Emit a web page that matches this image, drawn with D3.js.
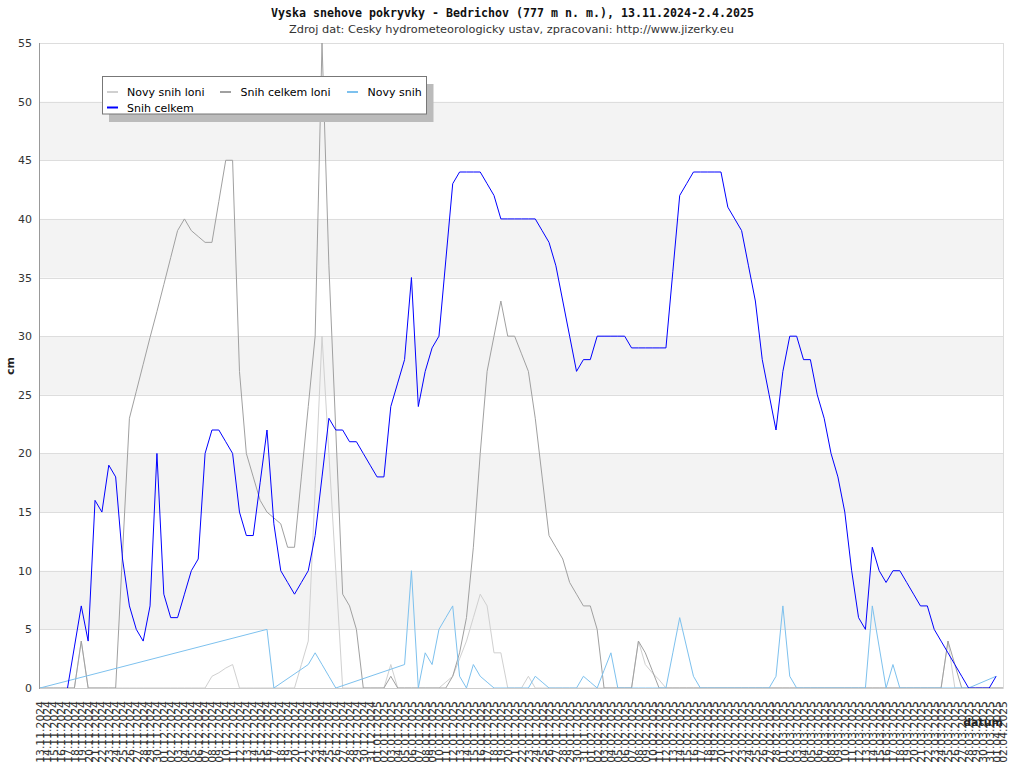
<!DOCTYPE html>
<html>
<head>
<meta charset="utf-8">
<script src="https://cdn.jsdelivr.net/npm/d3@7"></script>
<style>
html,body{margin:0;padding:0;background:#fff;}
svg{display:block;}
</style>
</head>
<body>
<svg id="chart" width="1024" height="768"></svg>
<script>
const titleText = "Vyska snehove pokryvky - Bedrichov (777 m n. m.), 13.11.2024-2.4.2025";
const subtitleText = "Zdroj dat: Cesky hydrometeorologicky ustav, zpracovani: http://www.jizerky.eu";

const dates = [
"13.11.2024","14.11.2024","15.11.2024","16.11.2024","17.11.2024","18.11.2024","19.11.2024","20.11.2024","21.11.2024","22.11.2024",
"23.11.2024","24.11.2024","25.11.2024","26.11.2024","27.11.2024","28.11.2024","29.11.2024","30.11.2024",
"01.12.2024","02.12.2024","03.12.2024","04.12.2024","05.12.2024","06.12.2024","07.12.2024","08.12.2024","09.12.2024","10.12.2024",
"11.12.2024","12.12.2024","13.12.2024","14.12.2024","15.12.2024","16.12.2024","17.12.2024","18.12.2024","19.12.2024","20.12.2024",
"21.12.2024","22.12.2024","23.12.2024","24.12.2024","25.12.2024","26.12.2024","27.12.2024","28.12.2024","29.12.2024","30.12.2024","31.12.2024",
"01.01.2025","02.01.2025","03.01.2025","04.01.2025","05.01.2025","06.01.2025","07.01.2025","08.01.2025","09.01.2025","10.01.2025",
"11.01.2025","12.01.2025","13.01.2025","14.01.2025","15.01.2025","16.01.2025","17.01.2025","18.01.2025","19.01.2025","20.01.2025",
"21.01.2025","22.01.2025","23.01.2025","24.01.2025","25.01.2025","26.01.2025","27.01.2025","28.01.2025","29.01.2025","30.01.2025","31.01.2025",
"01.02.2025","02.02.2025","03.02.2025","04.02.2025","05.02.2025","06.02.2025","07.02.2025","08.02.2025","09.02.2025","10.02.2025",
"11.02.2025","12.02.2025","13.02.2025","14.02.2025","15.02.2025","16.02.2025","17.02.2025","18.02.2025","19.02.2025","20.02.2025",
"21.02.2025","22.02.2025","23.02.2025","24.02.2025","25.02.2025","26.02.2025","27.02.2025","28.02.2025",
"01.03.2025","02.03.2025","03.03.2025","04.03.2025","05.03.2025","06.03.2025","07.03.2025","08.03.2025","09.03.2025","10.03.2025",
"11.03.2025","12.03.2025","13.03.2025","14.03.2025","15.03.2025","16.03.2025","17.03.2025","18.03.2025","19.03.2025","20.03.2025",
"21.03.2025","22.03.2025","23.03.2025","24.03.2025","25.03.2025","26.03.2025","27.03.2025","28.03.2025","29.03.2025","30.03.2025","31.03.2025",
"01.04.2025","02.04.2025"
];

// Novy snih loni (light grey)
const novySnihLoni = [
0,0,0,0,0,0,4,0,0,0,
0,0,0,0,0,0,0,0,0,0,
0,0,0,0,0,1,1.3,1.7,2,0,
0,0,0,0,0,0,0,0,2,4,
17,30,20,10,0,0,0,0,0,0,
0,2,0,0,0,0,0,0,0,0.5,
1,2.5,4,6,8,7,3,3,0,0,
0,1,0,0,0,0,0,0,0,0,
0,0,0,0,0,0,0,4,2,1.3,
0.7,0,0,0,0,0,0,0,0,0,
0,0,0,0,0,0,0,0,0,0,
0,0,0,0,0,0,0,0,0,0,
0,0,0,0,0,0,0,0,0,0,
0,0,4,0,0,0,0,0,0,0,
0
];

// Snih celkem loni (medium grey)
const snihCelkemLoni = [
0,0,0,0,0,0,4,0,0,0,
0,0,11.5,23,25.3,27.6,29.9,32.1,34.4,36.7,
39,40,39,38.5,38,38,41.5,45,45,27,
20,18,16,15,14.5,14,12,12,18,24,
30,55,36,22,8,7,5,0,0,0,
0,1,0,0,0,0,0,0,0,0,
1,3,6,12,20,27,30,33,30,30,
28.5,27,23,18,13,12,11,9,8,7,
7,5,0,0,0,0,0,4,3,1.5,
0,0,0,0,0,0,0,0,0,0,
0,0,0,0,0,0,0,0,0,0,
0,0,0,0,0,0,0,0,0,0,
0,0,0,0,0,0,0,0,0,0,
0,0,4,2,0,0,0,0,0,0,
0
];

// Novy snih (light blue)
const novySnih = [
0,null,null,null,null,null,null,null,null,null,
null,null,null,null,null,null,null,null,null,null,
null,null,null,null,null,null,null,null,null,null,
null,null,null,5,0,null,null,null,null,2,
3,2,1,0,null,null,null,null,null,null,
null,null,null,2,10,0,3,2,5,6,
7,1,0,2,1,0.5,0,0,0,0,
0,0,1,0.5,0,0,0,0,0,1,
0.5,0,1.5,3,0,0,0,0,0,0,
0,0,3,6,3.5,1,0,0,0,0,
0,0,0,0,0,0,0,1,7,1,
0,0,0,0,0,0,0,0,0,0,
0,7,3.5,0,2,0,0,0,0,0,
0,0,0,0,0,0,null,null,null,1,
null
];

// Snih celkem (blue)
const snihCelkem = [
null,null,null,null,0,3.5,7,4,16,15,
19,18,11,7,5,4,7,20,8,6,
6,8,10,11,20,22,22,21,20,15,
13,13,17.5,22,14,10,9,8,9,10,
13,18,23,22,22,21,21,20,19,18,
18,24,26,28,35,24,27,29,30,36.5,
43,44,44,44,44,43,42,40,40,40,
40,40,40,39,38,36,33,30,27,28,
28,30,30,30,30,30,29,29,29,29,
29,29,35.5,42,43,44,44,44,44,44,
41,40,39,36,33,28,25,22,27,30,
30,28,28,25,23,20,18,15,10,6,
5,12,10,9,10,10,9,8,7,7,
5,4,3,2,1,0,0,0,0,1,
null
];

const yTicks = [0,5,10,15,20,25,30,35,40,45,50,55];
const bandStarts = [5,15,25,35,45];

const seriesNames = ["Novy snih loni","Snih celkem loni","Novy snih","Snih celkem"];
const seriesColors = ["#d0d0d0","#a0a0a0","#7dc1ee","#0000ff"];
const seriesData = [novySnihLoni, snihCelkemLoni, novySnih, snihCelkem];

const svg = d3.select("#chart");
const L = 40, R = 1003, T = 43, B = 688;

const x = d3.scalePoint().domain(dates).range([L, R]);
const y = d3.scaleLinear().domain([0, 55]).range([B, T]);

svg.append("rect").attr("width",1024).attr("height",768).attr("fill","#fff");

// title
svg.append("text").attr("x",512.5).attr("y",17)
  .attr("text-anchor","middle")
  .attr("font-family","DejaVu Sans Mono").attr("font-weight","bold").attr("font-size",11.5)
  .attr("textLength",483).attr("lengthAdjust","spacingAndGlyphs")
  .attr("fill","#111").text(titleText);
svg.append("text").attr("x",511.5).attr("y",33)
  .attr("text-anchor","middle")
  .attr("font-family","DejaVu Sans").attr("font-size",10.5)
  .attr("textLength",445).attr("lengthAdjust","spacingAndGlyphs")
  .attr("fill","#333").text(subtitleText);

// bands
svg.append("g").selectAll("rect").data(bandStarts).join("rect")
  .attr("x",L).attr("width",R-L)
  .attr("y",d=>y(d+5)).attr("height",d=>y(d)-y(d+5))
  .attr("fill","#f3f3f3");

// gridlines
svg.append("g").selectAll("line").data(yTicks.filter(t=>t>0)).join("line")
  .attr("x1",L).attr("x2",R)
  .attr("y1",d=>Math.round(y(d))+0.5).attr("y2",d=>Math.round(y(d))+0.5)
  .attr("stroke","#dddddd").attr("stroke-width",1);

// lines
const line = d3.line().x(d=>x(dates[d.i])).y(d=>y(d.v));
seriesData.forEach((arr, k) => {
  const pts = arr.map((v,i)=>({i, v})).filter(p => p.v !== null);
  svg.append("path").datum(pts)
    .attr("d", line)
    .attr("fill","none")
    .attr("stroke", seriesColors[k])
    .attr("stroke-width",1);
});

// frame
svg.append("line").attr("x1",L).attr("x2",R+0.5).attr("y1",B+0.5).attr("y2",B+0.5).attr("stroke","#cccccc");
svg.append("line").attr("x1",R+0.5).attr("x2",R+0.5).attr("y1",T).attr("y2",B+0.5).attr("stroke","#dddddd");
svg.append("line").attr("x1",L-0.5).attr("x2",L-0.5).attr("y1",T).attr("y2",B+1).attr("stroke","#999999");

// y axis
const yAxis = svg.append("g").attr("transform",`translate(${L},0)`)
  .call(d3.axisLeft(y).tickValues(yTicks).tickSize(0).tickPadding(8));
yAxis.select(".domain").remove();
yAxis.selectAll("text").attr("font-family","DejaVu Sans").attr("font-size",11).attr("fill","#333");

// x axis
const xAxis = svg.append("g").attr("transform",`translate(0,${B})`)
  .call(d3.axisBottom(x).tickValues(dates).tickSize(0));
xAxis.select(".domain").remove();
xAxis.selectAll("text")
  .attr("font-family","DejaVu Sans").attr("font-size",10.8).attr("fill","#333")
  .attr("transform","rotate(-90)")
  .attr("text-anchor","end")
  .attr("x",-13).attr("y",0).attr("dy","0.36em");

// axis titles
svg.append("text").attr("transform","translate(14,366) rotate(-90)")
  .attr("text-anchor","middle").attr("font-family","DejaVu Sans").attr("font-weight","bold")
  .attr("font-size",11).attr("fill","#222").text("cm");
svg.append("text").attr("x",1003).attr("y",726).attr("text-anchor","end")
  .attr("font-family","DejaVu Sans").attr("font-weight","bold")
  .attr("font-size",11).attr("fill","#222").text("datum");

// legend
const lg = svg.append("g");
lg.append("rect").attr("x",109).attr("y",84).attr("width",324.5).attr("height",38).attr("fill","#bbbbbb");
lg.append("rect").attr("x",102.5).attr("y",76.5).attr("width",324).attr("height",37.5).attr("fill","#fff").attr("stroke","#777").attr("stroke-width",1);
const legItems = [
  {k:0, sx:107, tx:127, yy:92},
  {k:1, sx:220, tx:240.5, yy:92},
  {k:2, sx:347, tx:367.5, yy:92},
  {k:3, sx:107, tx:127, yy:107.5}
];
legItems.forEach(it => {
  lg.append("line").attr("x1",it.sx).attr("x2",it.sx+11).attr("y1",it.yy).attr("y2",it.yy)
    .attr("stroke",seriesColors[it.k]).attr("stroke-width",2);
  lg.append("text").attr("x",it.tx).attr("y",it.yy+4)
    .attr("font-family","DejaVu Sans").attr("font-size",11).attr("fill","#000")
    .text(seriesNames[it.k]);
});
</script>
</body>
</html>
